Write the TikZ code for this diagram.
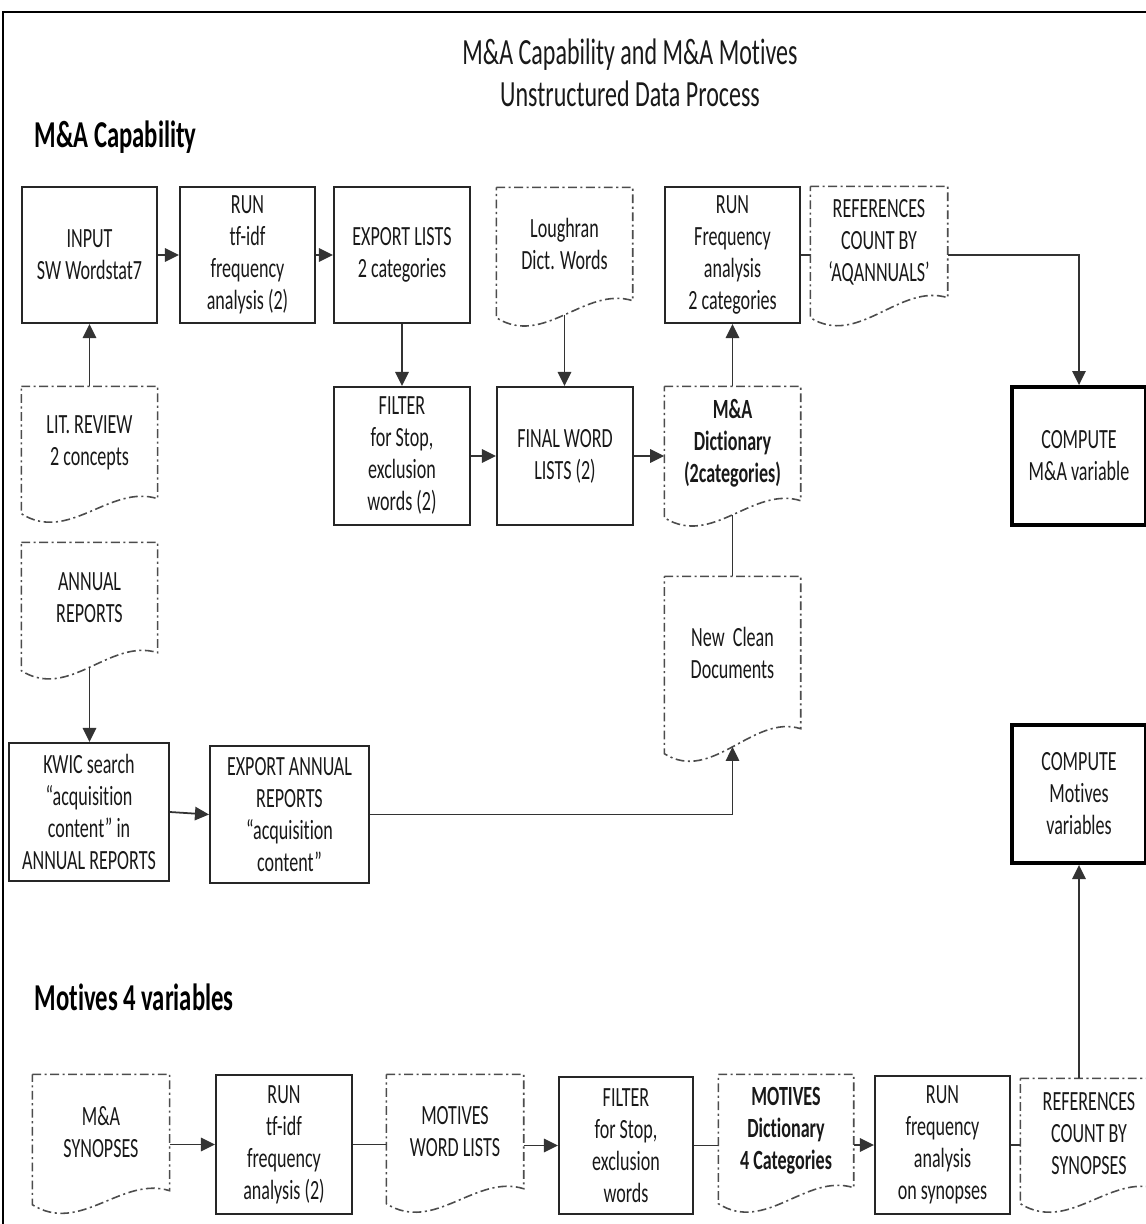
\documentclass[tikz,border=0pt]{standalone}
\usepackage{fontspec}
\setmainfont{Carlito}[FakeStretch=0.65, RawFeature=-liga]
\usetikzlibrary{arrows.meta,calc}

\newcommand\boxfont{\fontsize{7.9}{9.1}\selectfont}
\newcommand\titlefont{\fontsize{10.5}{11.9}\selectfont}
\newcommand\headfont{\fontsize{10.8}{12}\selectfont\bfseries}

% Document outline with a wavy bottom edge; #1 = rise of the right end,
% #2 = node whose box spans from the top to the right bottom corner.
\newcommand\docshape[2][15]{%
  \draw[docline] (#2.north west) -- (#2.north east) -- (#2.south east)
    .. controls ($(#2.south west)!0.65!(#2.south east)+(0,-15)$)
    and ($(#2.south west)!0.35!(#2.south east)+(0,#1+30)$)
    .. ($(#2.south west)+(0,#1)$) -- cycle;
  \coordinate (#2-b) at ($(#2.south)+(0,0.5*#1+5.6)$);
}

\begin{document}
\begin{tikzpicture}[x=0.01cm, y=-0.01cm,
  sz/.style 2 args={minimum width=#1*0.01cm, minimum height=#2*0.01cm},
  proc/.style={draw=black!85, line width=0.55pt, align=center, inner sep=0pt, font=\boxfont, text=black!90},
  result/.style={proc, line width=1.1pt, draw=black},
  doc/.style={align=center, inner sep=0pt, font=\boxfont, text=black!90},
  docline/.style={draw=black!70, line width=0.45pt, dash pattern=on 2.5pt off 1pt on 0.6pt off 1pt},
  link/.style={draw=black!80, line width=0.5pt},
  arr/.style={link, -{Triangle[length=4pt,width=3.8pt]}},
  frame/.style={draw=black, line width=0.8pt},
  head/.style={font=\headfont, anchor=west, inner sep=0pt, text=black},
  title/.style={font=\titlefont, align=center, inner sep=0pt, text=black!90}]

\useasboundingbox (0,0) rectangle (1146,1224);
\fill[white] (0,0) rectangle (1146,1224);

% outer frame
\draw[frame] (3,1224) -- (3,12) -- (1146,12);

% titles
\node[title] (title) at (630,73) {M\&A Capability and M\&A Motives\\Unstructured Data Process};
\node[head] (capab) at (34,137) {M\&A Capability};
\node[head] (motv) at (34,997) {Motives 4 variables};

% M&A capability: first row
\node[proc, sz={135}{136}] (input) at (89.5,255) {INPUT\\SW Wordstat7};
\node[proc, sz={135}{136}] (runtf) at (247.5,255) {RUN\\tf-idf\\frequency\\analysis (2)};
\node[proc, sz={136}{136}] (explists) at (402,255) {EXPORT LISTS\\2 categories};
\node[doc, sz={135}{112}] (lough) at (564.5,244) {Loughran\\Dict. Words};
\node[proc, sz={135}{136}] (runfreq) at (732.5,255) {RUN\\Frequency\\analysis\\2 categories};
\node[doc, sz={136}{110}] (refaq) at (879,242) {REFERENCES\\COUNT BY\\‘AQANNUALS’};

% second row
\node[doc, sz={135}{111}] (litrev) at (89.5,442.5) {LIT. REVIEW\\2 concepts};
\node[proc, sz={136}{138}] (filter) at (402,456) {FILTER\\for Stop,\\exclusion\\words (2)};
\node[proc, sz={136}{138}] (finalwl) at (565,456) {FINAL WORD\\LISTS (2)};
\node[doc, sz={135}{113}, font=\boxfont\bfseries] (madict) at (732.5,443.5) {M\&A\\Dictionary\\(2categories)};
\node[result, sz={134}{138}] (compma) at (1079,456) {COMPUTE\\M\&A variable};

% annual reports branch
\node[doc, sz={135}{109}] (annual) at (89.5,597.5) {ANNUAL\\REPORTS};
\node[doc, sz={135}{151}] (newclean) at (732.5,652.5) {New\ \ Clean\\Documents};
\node[proc, sz={160}{138}] (kwic) at (89,812) {KWIC search\\“acquisition\\content” in\\ANNUAL REPORTS};
\node[proc, sz={159}{137}] (expar) at (289.5,814.5) {EXPORT ANNUAL\\REPORTS\\“acquisition\\content”};
\node[result, sz={134}{138}] (compmot) at (1079,794) {COMPUTE\\Motives\\variables};

% motives row
\node[doc, sz={136}{115}] (synop) at (101,1132.5) {M\&A\\SYNOPSES};
\node[proc, sz={136}{139}] (runtf2) at (284,1144.5) {RUN\\tf-idf\\frequency\\analysis (2)};
\node[doc, sz={136}{113}] (motwl) at (455,1131.5) {MOTIVES\\WORD LISTS};
\node[proc, sz={134}{137}] (filter2) at (626,1145.5) {FILTER\\for Stop,\\exclusion\\words};
\node[doc, sz={134}{112}, font=\boxfont\bfseries] (motdict) at (786,1131) {MOTIVES\\Dictionary\\4 Categories};
\node[proc, sz={135}{138}] (runfreq2) at (942.5,1145) {RUN\\frequency\\analysis\\on synopses};
\node[doc, sz={136}{109}] (refsyn) at (1089,1133.5) {REFERENCES\\COUNT BY\\SYNOPSES};

% document outlines
\docshape[17]{lough}
\docshape[20]{refaq}
\docshape[15]{litrev}
\docshape[17]{madict}
\docshape[18]{annual}
\docshape[25]{newclean}
\docshape[14]{synop}
\docshape[15]{motwl}
\docshape[16]{motdict}
\docshape[15]{refsyn}

% connectors: M&A capability
\draw[arr] (input.east) -- (runtf.west);
\draw[arr] (runtf.east) -- (explists.west);
\draw[arr] (litrev.north) -- (input.south);
\draw[arr] (explists.south) -- (filter.north);
\draw[arr] (lough-b) -- (lough-b |- finalwl.north);
\draw[arr] (filter.east) -- (finalwl.west);
\draw[arr] (finalwl.east) -- (finalwl.east -| madict.west);
\draw[arr] (madict.north) -- (madict.north |- runfreq.south);
\draw[link] (runfreq.east) -- (runfreq.east -| refaq.west);
\draw[arr] (refaq.east |- runfreq.east) -| (compma.north);
\draw[link] (madict-b) -- (madict-b |- newclean.north);
\draw[arr] (annual-b) -- (annual-b |- kwic.north);
\draw[arr] (kwic.east) -- (expar.west);
\draw[arr] (expar.east) -| (newclean-b);

% connectors: motives
\draw[arr] (synop.east |- runtf2.west) -- (runtf2.west);
\draw[link] (runtf2.east) -- (runtf2.east -| motwl.west);
\draw[arr] (motwl.east |- filter2.west) -- (filter2.west);
\draw[link] (filter2.east) -- (filter2.east -| motdict.west);
\draw[arr] (motdict.east |- runfreq2.west) -- (runfreq2.west);
\draw[link] (runfreq2.east) -- (runfreq2.east -| refsyn.west);
\draw[arr] (refsyn.north -| compmot.south) -- (compmot.south);

\end{tikzpicture}
\end{document}
